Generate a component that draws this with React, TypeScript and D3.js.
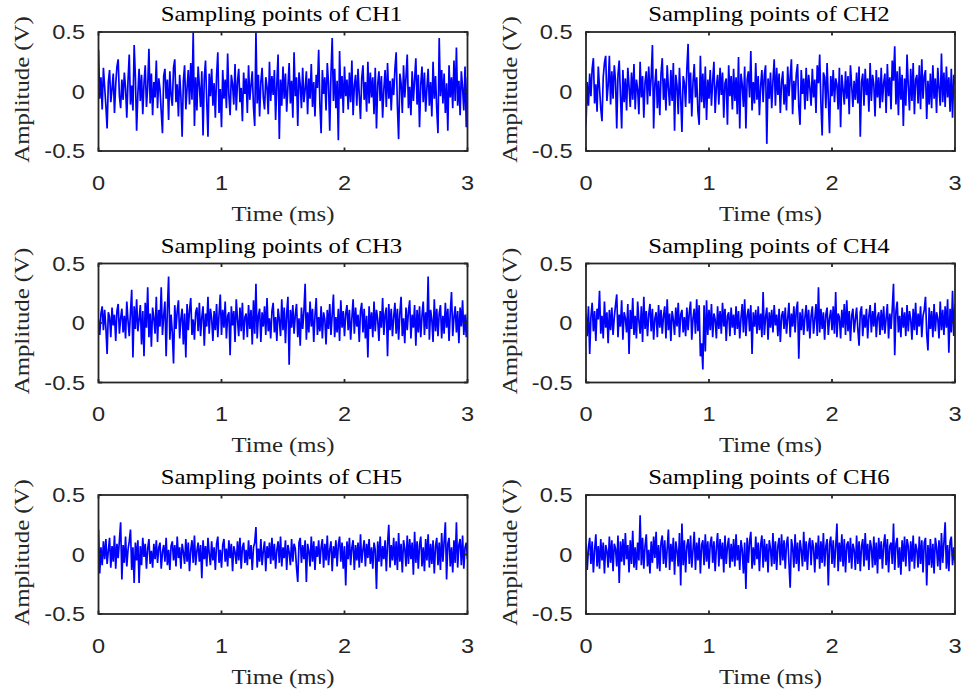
import * as d3 from 'd3';

// sampling interval of every channel (ms)
const dt = 0.01;
const timeDomain = [0, 3];
const ampDomain = [-0.5, 0.5];
const timeTicks = [0, 1, 2, 3];
const ampTicks = [-0.5, 0, 0.5];
const ampTickLabels = ['-0.5', '0', '0.5'];
const channelNames = ['CH1', 'CH2', 'CH3', 'CH4', 'CH5', 'CH6'];

// amplitudes in units of 0.01 V, one row = 0.2 ms
const ch1 = [
  35, -6, 12, -15, 20, 4, -12, -31, 8, 18, -9, 2, 15, -18, 6, 21, 27, -4, -14, 10,
  -7, 16, 3, -22, 9, 31, -11, 5, -16, 39, 12, -33, -2, 19, -8, 14, -19, 7, 22, -13,
  4, 36, -10, 15, -20, 8, -5, 26, -14, 11, 2, -17, -35, 13, 19, -6, 10, -24, 17, -3,
  -12, 20, 27, -9, 6, -21, 14, -4, -38, 9, 22, -15, 3, 18, -11, 24, -7, 50, -29, 12,
  -16, 21, 5, -13, 17, -37, 11, 26, -8, -38, 15, -4, 19, -12, 7, -22, 13, 33, -18, 2,
  -30, 18, -6, 10, -14, 32, -3, -20, 14, 6, -11, 23, -16, 8, 19, -9, 3, -25, 16, -2,
  11, -18, 22, -7, 5, 17, -13, -29, 50, -10, 14, -21, 8, 20, -5, -15, 12, 4, -19, 25,
  -8, 13, -3, 18, -24, 7, 31, -40, 10, -12, 21, -6, 15, -17, 4, 24, -10, 9, -22, 33,
  -4, 12, -29, 16, 6, -14, 20, -9, 2, 17, -19, 11, -6, 23, -13, 8, -21, 14, 3, 35,
  -11, -35, 18, -2, 12, -16, 24, 7, -33, 15, 45, -8, 19, -14, 9, -41, 34, -6, 13, -18,
  21, -4, 10, -15, 16, -9, 26, -20, 5, 14, -12, 19, -3, -23, 11, 22, -7, 8, -17, 25,
  -10, 16, -5, 12, -19, 20, -31, 6, 17, -8, 13, -22, 2, 18, -13, 24, -6, 9, -16, 11,
  -3, 19, 33, -12, -40, 15, 7, -18, 22, -5, 12, 31, -14, 4, -20, 17, -8, 10, 28, -11,
  14, -30, 6, 21, -9, 16, -17, 3, 19, -12, 8, -21, 25, -6, 13, -15, -35, 45, -4, 18,
  -10, 15, -18, 7, -33, 22, -5, 12, -14, 26, -8, 37, -12, 9, -20, 17, 3, -16, 21, -30,
  12,
];

const ch2 = [
  -28, 8, -12, 15, -4, 19, 28, -10, 6, -17, 21, 3, -14, -25, 12, 24, 30, -8, 5, 30,
  -11, 17, -6, 22, 9, -31, 14, 26, -3, -31, 18, -9, 11, -16, 20, 4, -13, 16, -7, 23,
  -15, 10, 2, -19, 25, -5, 13, -22, 8, 17, -11, 21, -4, 12, 39, -31, 6, 19, -14, 9,
  -20, 15, 28, -7, 11, -16, 22, 3, -12, 18, -8, 24, -33, 14, 5, -19, 20, -6, -34, 13,
  7, -13, 19, 40, -10, 16, -21, 8, 23, -5, 12, -17, -28, 30, -9, 15, -14, 21, -24, 10,
  -6, 18, -12, 9, 25, -18, 4, 14, -11, 20, -3, 16, -22, 7, 11, -28, 22, -4, 13, -15,
  19, -8, 12, -19, 29, -31, 15, 6, -13, 21, -31, 10, 17, -5, 34, -16, 8, -10, 24, -7,
  13, -20, 5, 18, -9, 14, 22, -44, 11, -6, 16, -14, 9, 27, -12, 20, -3, 15, -18, 8,
  17, -11, 6, -16, 21, -4, 12, 27, -19, 9, -7, 15, 23, -13, -28, 18, -2, 11, -15, 20,
  -8, 14, 3, -12, 19, -5, 10, -18, 22, 7, 31, -10, -37, 16, 12, -14, 24, -6, -35, 13,
  -4, 18, -9, 11, 6, -15, 20, -30, 14, 2, -11, 17, -6, 13, -19, 22, 5, -13, 9, -7,
  16, -10, 21, -38, 8, 15, -12, 19, -3, 11, -17, 24, -8, 14, 6, -21, 18, -5, 12, -14,
  20, -9, 7, 15, -18, 23, -4, 12, -15, 26, 9, 38, -11, 17, -20, 21, -7, 14, -29, 11,
  -12, 31, 5, -16, 19, -8, 24, -19, 10, 14, -10, 22, -15, 27, -6, 13, 18, -23, 9, -11,
  15, -14, 22, -6, 11, -18, 20, 3, -12, 32, -9, 16, -13, 21, -5, 12, -17, 19, -22, 14,
  6,
];

const ch3 = [
  3, -10, 8, 14, -6, 11, -4, -26, 9, 5, -12, 13, -2, 7, -15, 10, 16, -9, 4, 12,
  -8, 6, -13, 18, 2, -11, 9, 28, -29, 14, -5, 20, -7, 3, 15, -18, 10, -28, 17, -4,
  30, -12, 8, -20, 13, 4, -9, 22, -16, 11, -3, 30, -10, 6, 18, -28, 12, 39, -14, 7,
  -8, -34, 15, -5, 10, 19, -13, 4, 12, -18, 8, -29, 16, -6, 11, 21, -10, 3, -14, 9,
  13, -7, 17, -11, 5, 14, -19, 8, -3, 22, -9, 12, 4, -15, 10, -6, 16, -12, 7, 24,
  -10, 11, -4, 18, -13, 6, 9, -27, 14, -2, 10, -16, 20, 3, -11, 13, -7, 17, -14, 5,
  8, -12, 15, -5, 11, -18, 19, -9, 33, -13, 6, 12, -16, 9, -3, 14, -10, 21, -7, 4,
  -13, 10, 17, -8, 5, -15, 12, 3, -11, 20, -6, 13, -17, 8, 22, -35, 11, -4, 15, -9,
  7, 16, -12, 4, -19, 13, -5, 10, 33, -14, 9, -8, 18, -3, 12, -16, 6, 21, -10, 5,
  -7, 14, -13, 9, 3, -18, 11, -5, 16, -10, 7, 24, -12, 5, -8, 12, -15, 19, -4, 10,
  -11, 8, 15, -6, 11, -14, 4, 20, -9, 13, -3, 7, -16, 10, 17, -8, 12, -13, 6, -29,
  14, -5, 9, -12, 18, -7, 11, 3, -15, 10, -4, 21, -10, 7, 13, -28, 16, -6, 12, -11,
  5, 17, -9, 12, -14, 8, 22, -11, 4, -17, 13, -6, 10, 19, -13, 7, -4, 15, -19, 11,
  -8, 14, -12, 6, 18, -10, 9, -5, 39, -14, 11, 3, -16, 20, -7, 12, -11, 8, 15, -13,
  6, -9, 17, -4, 12, -15, 9, 26, -11, 5, 14, -8, 10, -17, 13, -3, 19, -10, 7, -12,
  8,
];

const ch4 = [
  8, -11, 14, -26, 5, 17, -7, 10, -15, 12, 3, 27, -9, 6, -13, 18, -4, 9, -17, 11,
  -6, 13, -10, 5, 15, 24, -12, 7, -3, 19, -14, 9, 4, -8, 16, -26, 11, -5, 21, -10,
  6, -13, 18, 2, -9, 14, -16, 22, -5, 10, -11, 7, 16, -7, 12, -14, 4, 9, -12, 15,
  -4, 11, -9, 6, 14, -13, 20, -6, 8, -15, 10, 3, -10, 13, -3, 17, -12, 7, 11, -8,
  5, -11, 13, -6, 9, 18, -14, 4, 12, -9, 20, -7, 15, -28, -17, -39, 15, -24, 19, -10,
  11, -6, 16, -12, 8, 3, -13, 14, -5, 10, -9, 17, -3, 12, -15, 6, 9, -11, 13, -4,
  7, -10, 14, -5, 10, -13, 4, 16, -8, 20, -11, 6, 12, -7, 15, -26, 9, -3, 11, -9,
  14, -6, 8, -12, 26, -10, 5, 13, -14, 9, -4, 11, -8, 15, -2, 7, -11, 12, -16, 6,
  10, -5, 13, -9, 4, 17, -12, 8, -3, 14, -8, 11, 18, -30, 9, -6, 12, -10, 5, 15,
  -7, 11, -13, 6, 14, -9, 3, 16, -11, 30, -8, 12, -5, 9, -14, 7, 13, -10, 4, 11,
  -6, 14, -9, 26, -12, 8, 5, -13, 11, -4, 16, -10, 19, -7, 10, -15, 6, 12, -8, 3,
  13, -5, -19, 9, 14, -11, 7, -4, 12, -13, 6, 15, -8, 10, -3, 17, -12, 5, 9, -10,
  11, -6, 14, -9, 4, 16, -13, 8, -5, 12, 33, -27, 10, 18, -8, 6, -12, 13, -4, 9,
  -11, 15, -7, 10, 3, -14, 12, -6, 17, -10, 8, -3, 14, -12, 6, 11, 22, -9, -23, 13,
  -5, 10, -12, 16, -7, 9, 4, -13, 18, -6, 11, -10, 14, -4, 20, -25, 12, -8, 27, -11,
  16,
];

const ch5 = [
  21, -16, 6, -9, 11, -4, 13, -8, 3, 14, -11, 7, -6, 16, -12, 9, -3, 12, 27, -21,
  8, -7, 15, -10, 4, 11, 21, -13, 6, -24, 10, -5, 12, -24, 7, -9, 14, -2, 9, -12,
  5, 13, -8, 3, -11, 9, -4, 12, -7, 6, 10, -12, 2, 8, -6, 14, -9, 4, -13, 7,
  11, -5, 8, -10, 15, -3, 6, -12, 9, 2, -8, 13, -6, 10, -14, 4, 12, -7, 16, -9,
  3, 10, -6, 8, -20, 12, -4, 7, -10, 14, 1, -9, 11, -5, 6, -13, 9, 15, -7, 4,
  -11, 8, 13, -6, 5, -10, 12, -3, 9, -14, 7, 2, -8, 11, -5, 14, -12, 6, 10, -7,
  4, -9, 12, -4, 8, -13, 6, 10, 23, -11, 5, -6, 13, -9, 3, 11, -14, 7, -3, 10,
  -8, 14, -5, 9, -12, 4, 11, -7, 15, -10, 6, -3, 12, -13, 8, 2, -9, 13, -6, 9,
  5, -11, -23, 10, 14, -7, 8, -4, 12, -23, 9, 3, -10, 15, -6, 11, -13, 7, -2, 12,
  -8, 6, 13, -11, 9, -5, 16, -9, 4, 11, -14, 7, -3, 12, -10, 8, 15, -6, 10, -12,
  7, -26, 11, -4, 14, -9, 6, 12, -13, 8, -5, 10, -11, 17, -7, 4, 12, -10, 9, -3,
  13, -8, 6, -12, 10, 4, -29, 11, -6, 15, -10, 7, -4, 12, -14, 9, 25, -11, 8, -5,
  14, -9, 11, -13, 18, -6, 9, -15, 12, 5, -10, 16, -8, 13, -4, 10, -17, 19, -7, 11,
  -12, 8, 15, -10, 6, -14, 13, -5, 17, -11, 9, -8, 12, -16, 7, 14, -9, 10, -13, 18,
  -6, 11, 27, -21, 9, 14, -10, 6, -15, 12, -7, 27, -11, 8, 13, -9, 16, -12, 6, 10,
  -4,
];

const ch6 = [
  9, -13, 6, 14, -8, 11, -15, 4, 17, -10, 7, -12, 13, -5, 10, -16, 8, 3, -11, 15,
  -7, 12, -14, 9, 5, -10, 16, -24, 11, -6, 13, -9, 18, -4, 8, -15, 12, -8, 20, -11,
  6, -13, 10, -5, 33, -9, 14, -12, 7, 17, -10, 4, -16, 11, -7, 15, -3, 19, -12, 8,
  -14, 10, 16, -8, 12, -11, 5, 21, -13, 9, -6, 14, -17, 11, 3, -10, 18, -26, 26, -9,
  12, -15, 7, 13, -8, 16, -11, 4, 19, -13, 10, -5, 14, -16, 8, 12, -9, 17, -6, 11,
  -12, 9, 15, -7, 11, -14, 6, 18, -10, 13, -4, 10, -15, 16, -8, 7, 14, -11, 9, -6,
  13, -10, 17, -5, 8, -13, 12, 4, -16, 10, -29, 14, -7, 11, 19, -12, 6, -9, 15, -4,
  10, -14, 8, 16, -11, 13, -6, 9, -15, 12, 5, -10, 18, -8, 11, -13, 7, 14, -9, 17,
  -5, 12, -12, 9, 15, -7, -28, 13, 6, -11, 17, -8, 10, -14, 12, 4, -10, 19, -6, 11,
  -13, 8, 14, -9, 12, 6, -15, 10, -4, 16, -12, 11, -7, 18, -10, 7, 13, -26, 9, 15,
  -8, 12, -11, 6, 26, -14, 10, -6, 17, -10, 13, -15, 8, 11, -7, 14, -12, 9, 4, -13,
  16, -8, 11, -14, 7, 13, -10, 18, -5, 9, -13, 12, 6, -11, 15, -9, 10, -16, 14, -4,
  11, -12, 8, 17, -9, 13, -15, 7, 10, -8, 26, -13, 9, 14, -11, 6, -17, 12, -6, 15,
  -10, 13, 7, -14, 11, -6, 16, -12, 9, 4, -11, 15, -8, 12, -15, 10, 14, -26, 8, -9,
  13, -11, 9, -16, 14, 6, -10, 12, -13, 18, -7, 10, 27, -12, 8, -14, 11, 15, -9, 6,
  -7,
];

const channelData = [ch1, ch2, ch3, ch4, ch5, ch6];

const W = 964;
const H = 695;
const colLeft = [98.5, 586];
const rowTop = [32, 263.5, 495];
const plotW = 369;
const plotH = 119;
const tickLen = 3.5;
const axisColor = '#262626';
const textStretch = 1.18; // text in the figure is rendered wider than plain Times / Arial
const serif = '"Liberation Serif", "Times New Roman", serif';
const sans = '"Liberation Sans", Arial, sans-serif';

function Panel({ values, name, left, top, idx }: { values: number[]; name: string; left: number; top: number; idx: number }) {
  const x = d3.scaleLinear().domain(timeDomain).range([left, left + plotW]);
  const y = d3.scaleLinear().domain(ampDomain).range([top + plotH, top]);
  const line = d3
    .line<number>()
    .x((_, i) => x(i * dt))
    .y((d) => y(d / 100));
  const bottom = top + plotH;
  const right = left + plotW;
  const clipId = `clip-${idx}`;

  return (
    <g>
      <clipPath id={clipId}>
        <rect x={left} y={top} width={plotW} height={plotH} />
      </clipPath>
      <path
        d={line(values) || ''}
        fill="none"
        stroke="#0000ff"
        strokeWidth={1.7}
        strokeLinejoin="miter"
        strokeMiterlimit={2}
        clipPath={`url(#${clipId})`}
      />

      <rect x={left} y={top} width={plotW} height={plotH} fill="none" stroke={axisColor} strokeWidth={1.8} />
      {timeTicks.map((t) => (
        <g key={`xt${t}`}>
          <line x1={x(t)} x2={x(t)} y1={bottom} y2={bottom - tickLen} stroke={axisColor} strokeWidth={1.8} />
          <line x1={x(t)} x2={x(t)} y1={top} y2={top + tickLen} stroke={axisColor} strokeWidth={1.8} />
          <text
            transform={`translate(${x(t)},${bottom + 38.5}) scale(${textStretch},1)`}
            textAnchor="middle"
            fontFamily={sans}
            fontSize={20}
            fill={axisColor}
          >
            {t}
          </text>
        </g>
      ))}
      {ampTicks.map((a, i) => (
        <g key={`yt${a}`}>
          <line x1={left} x2={left + tickLen} y1={y(a)} y2={y(a)} stroke={axisColor} strokeWidth={1.8} />
          <line x1={right} x2={right - tickLen} y1={y(a)} y2={y(a)} stroke={axisColor} strokeWidth={1.8} />
          <text
            transform={`translate(${left - 13.5},${y(a) + 7}) scale(${textStretch},1)`}
            textAnchor="end"
            fontFamily={sans}
            fontSize={20}
            fill={axisColor}
          >
            {ampTickLabels[i]}
          </text>
        </g>
      ))}

      <text
        transform={`translate(${left + plotW / 2 - 1.5},${top - 11}) scale(${textStretch},1)`}
        textAnchor="middle"
        fontFamily={serif}
        fontSize={21}
        fill="#000"
      >
        Sampling points of {name}
      </text>
      <text
        transform={`translate(${left + plotW / 2},${bottom + 69.5}) scale(${textStretch},1)`}
        textAnchor="middle"
        fontFamily={serif}
        fontSize={21}
        fill={axisColor}
      >
        Time (ms)
      </text>
      <text
        transform={`translate(${left - 69.5},${top + plotH / 2 - 2}) rotate(-90) scale(${textStretch},1)`}
        textAnchor="middle"
        fontFamily={serif}
        fontSize={21}
        fill={axisColor}
      >
        Amplitude (V)
      </text>
    </g>
  );
}

export default function App() {
  return (
    <svg
      width={W}
      height={H}
      viewBox={`0 0 ${W} ${H}`}
      style={{ position: 'absolute', left: 0, top: 0, background: '#fff' }}
    >
      {channelData.map((values, i) => (
        <Panel
          key={channelNames[i]}
          idx={i}
          values={values}
          name={channelNames[i]}
          left={colLeft[i % 2]}
          top={rowTop[Math.floor(i / 2)]}
        />
      ))}
    </svg>
  );
}
